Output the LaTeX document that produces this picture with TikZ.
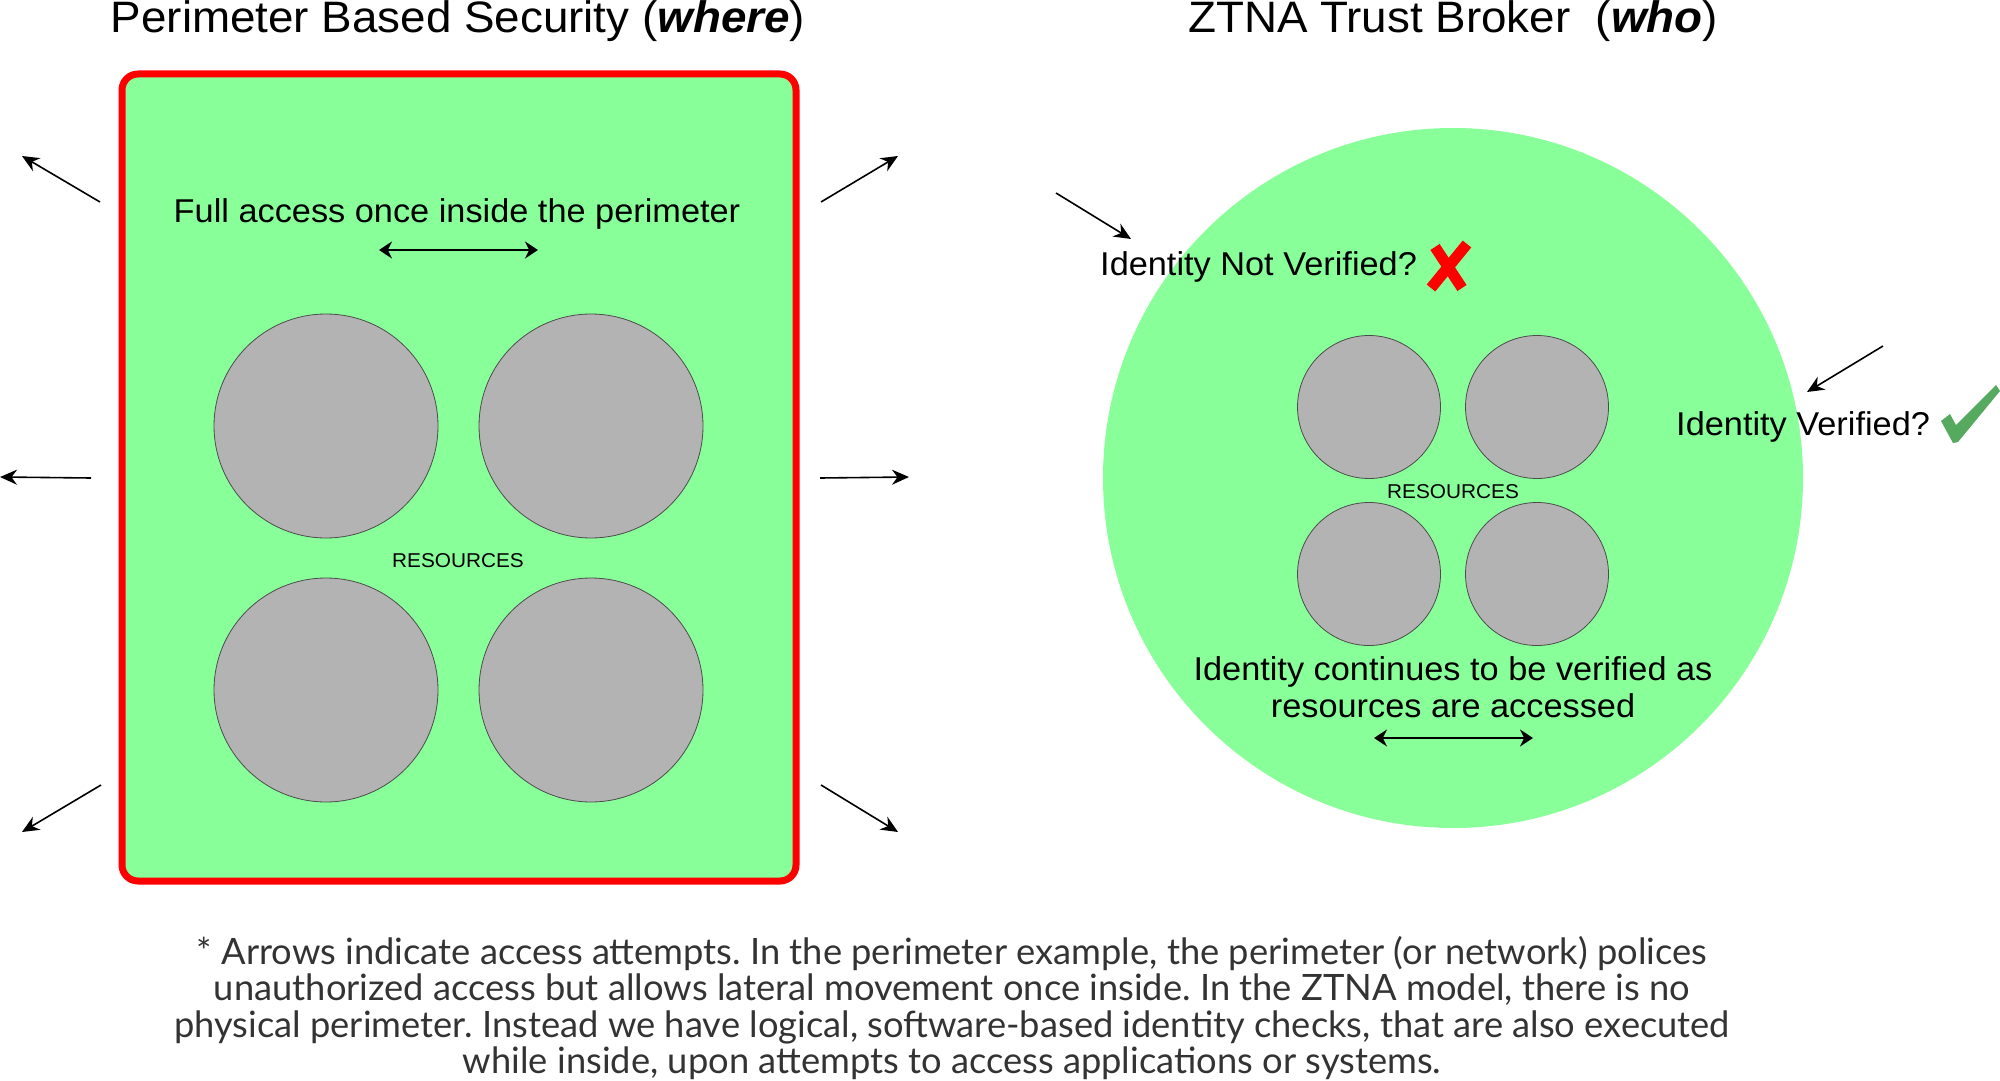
\documentclass[tikz,border=0pt]{standalone}
\usepackage{fontspec}
\setmainfont[FakeStretch=1.04]{Liberation Sans}
\newfontfamily\footfont{Lato}
\usetikzlibrary{arrows.meta}
\definecolor{zgreen}{HTML}{88FF99}
\definecolor{rgray}{HTML}{B3B3B3}
\definecolor{cgreen}{HTML}{55AA5F}
\definecolor{ftext}{HTML}{333333}
\frenchspacing
\begin{document}
\begin{tikzpicture}[x=1pt,y=-1pt,
  res/.style={circle,draw=black!70,line width=0.8pt,fill=rgray,inner sep=0pt},
  bigres/.style={res,minimum size=224pt},
  smallres/.style={res,minimum size=143pt},
  attempt/.style={line width=1.6pt,-{Stealth[length=17pt,width=15pt]}},
  lateral/.style={line width=2.6pt,{Stealth[length=13pt,width=17pt]}-{Stealth[length=13pt,width=17pt]}},
  titletext/.style={font=\fontsize{44}{50}\selectfont,anchor=base,inner sep=0pt},
  labeltext/.style={font=\fontsize{33}{37}\selectfont,anchor=base,inner sep=0pt},
  restext/.style={font=\fontsize{20}{24}\selectfont,anchor=base,inner sep=0pt},
  foottext/.style={font=\footfont\fontsize{36.3}{36.5}\selectfont,text=ftext,anchor=base,inner sep=0pt}]
\useasboundingbox (0,0) rectangle (2000,1081);
\fill[white] (0,0) rectangle (2000,1081);

% ---------- left: perimeter ----------
\node[titletext] (ltitle) at (458,33) {Perimeter Based Security (\textbf{\textit{where}})};
\node[draw=red,line width=7pt,fill=zgreen,rounded corners=16pt,inner sep=0pt,
      minimum width=674pt,minimum height=807pt] (perim) at (459,477.5) {};
\node[labeltext] (fullacc) at (457,222) {Full access once inside the perimeter};
\coordinate (la1) at (379,250);
\coordinate (la2) at (538,250);
\draw[lateral] (la1) -- (la2);
\node[bigres] (r1) at (326,426) {};
\node[bigres] (r2) at (591,426) {};
\node[bigres] (r3) at (326,690) {};
\node[bigres] (r4) at (591,690) {};
\node[restext] (lres) at (458,567) {RESOURCES};

% outward attempts
\coordinate (t1) at (100,202); \coordinate (h1) at (22,156);
\coordinate (t2) at (91,478);  \coordinate (h2) at (0,477);
\coordinate (t3) at (101,785); \coordinate (h3) at (22,832);
\coordinate (t4) at (821,202); \coordinate (h4) at (898,156);
\coordinate (t5) at (820,478); \coordinate (h5) at (909,477);
\coordinate (t6) at (821,785); \coordinate (h6) at (898,832);
\foreach \i in {1,...,6} \draw[attempt] (t\i) -- (h\i);

% ---------- right: ZTNA ----------
\node[titletext] (rtitle) at (1453,33) {ZTNA Trust Broker\ \ (\textbf{\textit{who}})};
\node[circle,fill=zgreen,inner sep=0pt,minimum size=700pt] (ztna) at (1453,478) {};
\node[smallres] (s1) at (1369,407) {};
\node[smallres] (s2) at (1537,407) {};
\node[smallres] (s3) at (1369,574) {};
\node[smallres] (s4) at (1537,574) {};
\node[restext] (rres) at (1453,498) {RESOURCES};

\node[labeltext,anchor=base west] (notver) at (1100,275) {Identity Not Verified?};
\coordinate (nt) at (1056,193); \coordinate (nh) at (1131,239);
\draw[attempt] (nt) -- (nh);
\draw[red,line width=11pt] (1435,247) -- (1462,288);
\draw[red,line width=11pt] (1467,244) -- (1431,288);

\node[labeltext,anchor=base west] (ver) at (1676,435) {Identity Verified?};
\coordinate (vt) at (1883,346); \coordinate (vh) at (1807,392);
\draw[attempt] (vt) -- (vh);
\fill[cgreen] (1941,421) -- (1950,414) -- (1956,425) -- (1996,385) -- (2000,391) -- (1958,442) -- (1953,443) -- cycle;

\node[labeltext] (cont1) at (1453,680) {Identity continues to be verified as};
\node[labeltext] (cont2) at (1453,717) {resources are accessed};
\coordinate (ra1) at (1374,738);
\coordinate (ra2) at (1533,738);
\draw[lateral] (ra1) -- (ra2);

% ---------- footnote ----------
\node[foottext] (f1) at (952,964) {* Arrows indicate access attempts. In the perimeter example, the perimeter (or network) polices};
\node[foottext] (f2) at (952,1000.5) {unauthorized access but allows lateral movement once inside. In the ZTNA model, there is no};
\node[foottext] (f3) at (952,1037) {physical perimeter. Instead we have logical, software-based identity checks, that are also executed};
\node[foottext] (f4) at (952,1073.5) {while inside, upon attempts to access applications or systems.};
\end{tikzpicture}
\end{document}
